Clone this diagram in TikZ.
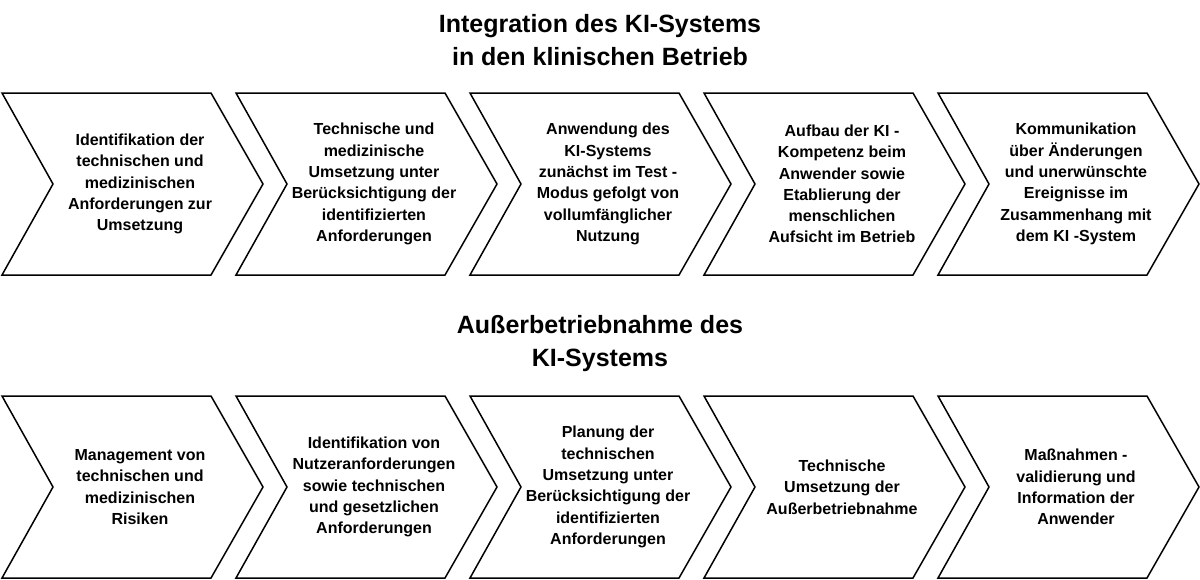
\documentclass[tikz,border=0pt]{standalone}
\usepackage{fontspec}
\setmainfont{Liberation Sans}
\usepackage{tikz}
\tikzset{
 chevline/.style={draw, line width=1.5pt, line join=miter},
 steptext/.style={font=\bfseries\fontsize{16}{21.3}\selectfont, align=center, inner sep=0pt},
 headtext/.style={font=\bfseries\fontsize{25}{33}\selectfont, align=center, inner sep=0pt}
}
\newcommand{\chevron}[1]{(#1) ++(0,-91) -- ++(209,0) -- ++(52,91) -- ++(-52,91) -- ++(-209,0) -- ++(51,-91) -- cycle}

\begin{document}
\begin{tikzpicture}[x=1pt,y=-1pt]
\useasboundingbox (0,0) rectangle (1200,579);
\node[headtext] (head1) at (600,40) {Integration des KI-Systems\\in den klinischen Betrieb};
\node[headtext] (head2) at (600,343.5) {Außerbetriebnahme des\\KI-Systems};
% Integration
\foreach \i/\t in {0/{Identifikation der\\technischen und\\medizinischen\\Anforderungen zur\\Umsetzung},
 1/{Technische und\\medizinische\\Umsetzung unter\\Berücksichtigung der\\identifizierten\\Anforderungen},
 2/{Anwendung des\\KI-Systems\\zunächst im Test -\\Modus gefolgt von\\vollumfänglicher\\Nutzung},
 3/{Aufbau der KI -\\Kompetenz beim\\Anwender sowie\\Etablierung der\\menschlichen\\Aufsicht im Betrieb},
 4/{Kommunikation\\über Änderungen\\und unerwünschte\\Ereignisse im\\Zusammenhang mit\\dem KI -System}} {
 \coordinate (a\i) at (2+234*\i,184);
 \draw[chevline] \chevron{a\i};
 \node[steptext] (ta\i) at ([xshift=138pt]a\i) {\t};
 }
% Ausserbetriebnahme
\foreach \i/\t in {0/{Management von\\technischen und\\medizinischen\\Risiken},
 1/{Identifikation von\\Nutzeranforderungen\\sowie technischen\\und gesetzlichen\\Anforderungen},
 2/{Planung der\\technischen\\Umsetzung unter\\Berücksichtigung der\\identifizierten\\Anforderungen},
 3/{Technische\\Umsetzung der\\Außerbetriebnahme},
 4/{Maßnahmen -\\validierung und\\Information der\\Anwender}} {
 \coordinate (b\i) at (2+234*\i,487);
 \draw[chevline] \chevron{b\i};
 \node[steptext] (tb\i) at ([xshift=138pt]b\i) {\t};
 }
\end{tikzpicture}
\end{document}
